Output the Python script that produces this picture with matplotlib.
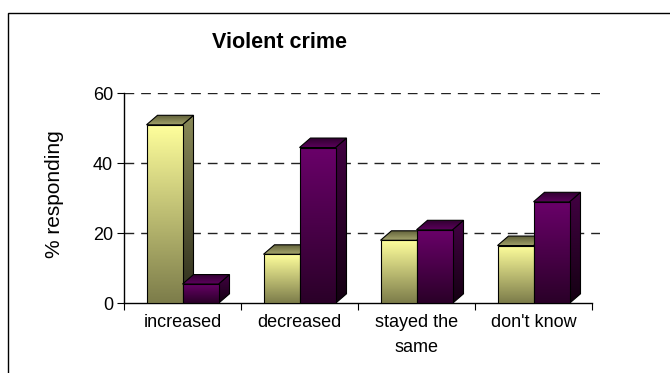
import numpy as np
import matplotlib.pyplot as plt
from matplotlib.patches import Polygon, Rectangle
from matplotlib.colors import LinearSegmentedColormap

categories = ['increased', 'decreased', 'stayed the\nsame', "don't know"]
series_a = [51, 14, 18, 16.5]     # yellow bars
series_b = [5.5, 44.5, 21, 29]    # purple bars
yticks = [0, 20, 40, 60]

plt.rcParams['font.family'] = ['Liberation Sans', 'DejaVu Sans']

W, H = 670, 373
fig = plt.figure(figsize=(W / 100, H / 100), dpi=100)
ax = fig.add_axes([124 / W, (H - 303.3) / H, 476 / W, 210 / H])

px_x = 117.0      # pixels per category
px_y = 3.5        # pixels per unit
bar_w = 36 / px_x
dx = 11 / px_x
dy = 9.5 / px_y

yellow = dict(front=('#ffff9c', '#7c7c4a'), side=('#8a8a58', '#2c2c1a'), top=('#5e5e38', '#a4a46c'))
purple = dict(front=('#6a006a', '#2a0028'), side=('#420042', '#140012'), top=('#300030', '#5c005c'))

grad = np.linspace(0, 1, 256).reshape(-1, 1)


def face(pts, c_top, c_bot, z):
    poly = Polygon(pts, closed=True, facecolor='none', edgecolor='black', lw=0.8, zorder=z + 0.5)
    ax.add_patch(poly)
    xs = [p[0] for p in pts]
    ys = [p[1] for p in pts]
    cmap = LinearSegmentedColormap.from_list('g', [c_bot, c_top])
    im = ax.imshow(grad, extent=(min(xs), max(xs), min(ys), max(ys)), origin='lower',
                   cmap=cmap, aspect='auto', zorder=z, interpolation='bilinear')
    im.set_clip_path(poly)


def bar3d(x0, h, col, z):
    x1 = x0 + bar_w
    face([(x1, 0), (x1 + dx, dy), (x1 + dx, h + dy), (x1, h)], *col['side'], z)
    face([(x0, h), (x1, h), (x1 + dx, h + dy), (x0 + dx, h + dy)], *col['top'], z + 1)
    face([(x0, 0), (x1, 0), (x1, h), (x0, h)], *col['front'], z + 2)


z = 3
for i in range(len(categories)):
    bar3d(i - bar_w, series_a[i], yellow, z)
    z += 3
    bar3d(i, series_b[i], purple, z)
    z += 3

for v in yticks[1:]:
    ax.axhline(v, color='#222222', lw=1, ls=(0, (7, 5)), zorder=1)
ax.plot([-0.5, len(categories) - 0.5], [0, 0], color='black', lw=1, clip_on=False, zorder=2)

ax.set_xlim(-0.5, -0.5 + 476 / px_x)
ax.set_ylim(0, 60)

for s in ['top', 'right', 'bottom']:
    ax.spines[s].set_visible(False)
ax.spines['left'].set_linewidth(1)

ax.set_yticks(yticks)
ax.tick_params(axis='y', direction='out', length=5, labelsize=13, pad=3)
ax.set_xticks(np.arange(len(categories) + 1) - 0.5)
ax.set_xticklabels([])
ax.set_xticks(np.arange(len(categories)), categories, minor=True)
ax.tick_params(axis='x', which='major', direction='out', length=5)
ax.tick_params(axis='x', which='minor', length=0, labelsize=13, pad=8)
for t in ax.get_xticklabels(minor=True):
    t.set_linespacing(1.6)

fig.text(279 / W, 1 - 42 / H, 'Violent crime', fontsize=15.5, fontweight='bold',
         ha='center', va='center')
fig.text(55 / W, 1 - 194 / H, '% responding', rotation=90, fontsize=15,
         ha='center', va='center')

fig.add_artist(Rectangle((7.5 / W, -0.1), 1.2, (H - 12.5) / H + 0.1, transform=fig.transFigure,
                         fill=False, edgecolor='black', lw=1, clip_on=False))

fig.savefig('out.png', dpi=100)
